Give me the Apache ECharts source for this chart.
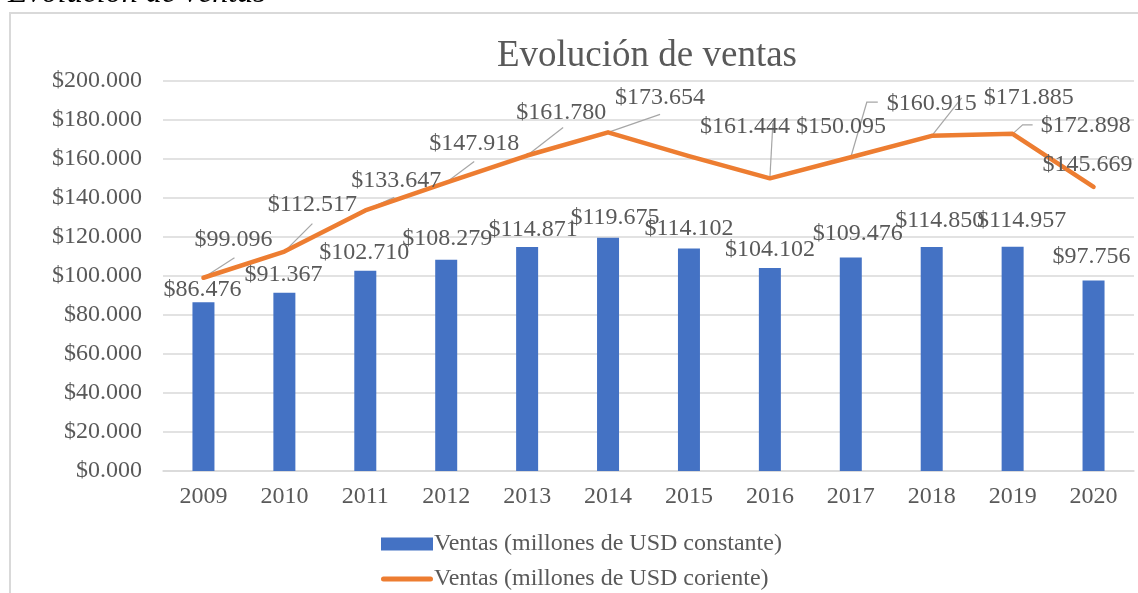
<!DOCTYPE html>
<html>
<head>
<meta charset="utf-8">
<script src="https://cdn.jsdelivr.net/npm/echarts@6/dist/echarts.min.js"></script>
<style>
  html, body { margin: 0; padding: 0; background: #ffffff; }
  #chart { width: 1138px; height: 593px; }
</style>
</head>
<body>
<div id="chart"></div>
<script>
// ---- data ----
const years = ['2009', '2010', '2011', '2012', '2013', '2014', '2015', '2016', '2017', '2018', '2019', '2020'];
const ventasConstante = [86.476, 91.367, 102.710, 108.279, 114.871, 119.675, 114.102, 104.102, 109.476, 114.850, 114.957, 97.756];
const ventasCorriente = [99.096, 112.517, 133.647, 147.918, 161.780, 173.654, 161.444, 150.095, 160.915, 171.885, 172.898, 145.669];
const seriesNames = ['Ventas (millones de USD constante)', 'Ventas (millones de USD coriente)'];
const yAxisMin = 0;
const yAxisMax = 200;
const yAxisStep = 20;

// ---- label placement (px offsets of the label centre from its anchor) ----
const barLabelShift = [[-1, -13], [-1, -18], [-1, -18], [1, -21], [6, -17.5], [7, -20],
                       [0, -19.5], [0, -18], [7, -24], [8, -26.5], [9, -26], [-2, -24]];
const lineLabelShift = [[30, -38], [28, -47], [31, -30], [28, -39], [34, -43], [52, -35],
                        [56, -29], [71, -52], [81, -54], [97, -38], [73, -8], [-6, -22]];
// leader-line bends, relative to the point; null = no leader
const lineLeader = [[[31, -20]], [[28, -28]], [[29, -13]], [[28, -21]], [[36, -28]], [[52, -18]],
                    null, [[3, -55]], [[16, -55], [27, -55]], [[30, -38]], [[10, -9], [20, -9]], null];

const FONT = '"Liberation Serif", "Times New Roman", serif';
const TEXT = '#595959';
const fmt = v => '$' + v.toFixed(3);

const legendBase = {
  left: 376,
  itemWidth: 52,
  itemHeight: 13,
  textStyle: { color: TEXT, fontSize: 24, fontFamily: FONT, padding: [0, 0, 0, -4] }
};

const chart = echarts.init(document.getElementById('chart'), null, { renderer: 'canvas' });

chart.setOption({
  backgroundColor: '#ffffff',
  animation: false,
  textStyle: { fontFamily: FONT },
  graphic: [
    { type: 'rect', shape: { x: 10, y: 13, width: 1150, height: 600 },
      style: { fill: null, stroke: '#d9d9d9', lineWidth: 2 }, silent: true },
    { type: 'text', x: 8, y: -6,
      style: { text: 'Evolución de ventas', font: 'italic 32px ' + FONT, fill: '#000000',
               align: 'left', verticalAlign: 'middle' } },
    { type: 'text', x: 647, y: 56,
      style: { text: 'Evolución de ventas', font: '37px ' + FONT, fill: TEXT,
               align: 'center', verticalAlign: 'middle' } }
  ],
  legend: [
    Object.assign({}, legendBase, {
      top: 527,
      data: [{ name: seriesNames[0], icon: 'rect' }]
    }),
    Object.assign({}, legendBase, {
      top: 562,
      data: [{ name: seriesNames[1],
               icon: 'path://M0,0L0.01,0M2.5,4H49.5A2.5,2.5,0,0,1,49.5,9H2.5A2.5,2.5,0,0,1,2.5,4ZM0,13L0.01,13',
               itemStyle: { color: '#ed7d31' } }]
    })
  ],
  grid: { left: 163, right: 4, top: 81, bottom: 122 },
  xAxis: {
    type: 'category',
    data: years,
    axisLine: { lineStyle: { color: '#d9d9d9', width: 1.5 } },
    axisTick: { show: false },
    axisLabel: { color: TEXT, fontSize: 24, fontFamily: FONT, margin: 14 }
  },
  yAxis: {
    type: 'value',
    min: yAxisMin,
    max: yAxisMax,
    interval: yAxisStep,
    axisLine: { show: false },
    axisTick: { show: false },
    splitLine: { lineStyle: { color: '#d9d9d9', width: 1.5 } },
    axisLabel: { color: TEXT, fontSize: 24, fontFamily: FONT, margin: 21, formatter: fmt }
  },
  series: [
    {
      name: seriesNames[0],
      type: 'bar',
      data: ventasConstante,
      barWidth: 22,
      itemStyle: { color: '#4472c4' },
      label: { show: true, position: 'top', color: TEXT, fontSize: 24, fontFamily: FONT,
               formatter: p => fmt(p.value) },
      labelLayout: function (p) {
        const s = barLabelShift[p.dataIndex];
        return { x: p.rect.x + p.rect.width / 2 + s[0], y: p.rect.y + s[1],
                 align: 'center', verticalAlign: 'middle' };
      },
      z: 2
    },
    {
      // grey leader lines from each point towards its value label
      name: 'leaders',
      type: 'custom',
      data: ventasCorriente.map((v, i) => [i, v]),
      encode: { x: 0, y: 1 },
      silent: true,
      z: 3,
      renderItem: function (params, api) {
        const bends = lineLeader[params.dataIndex];
        if (!bends) return null;
        const p = api.coord([api.value(0), api.value(1)]);
        const pts = [p].concat(bends.map(b => [p[0] + b[0], p[1] + b[1]]));
        return { type: 'polyline', shape: { points: pts },
                 style: { stroke: '#a6a6a6', lineWidth: 1.2, fill: null } };
      }
    },
    {
      name: seriesNames[1],
      type: 'line',
      data: ventasCorriente,
      symbol: 'circle',
      symbolSize: 1,
      showSymbol: true,
      itemStyle: { color: '#ed7d31' },
      lineStyle: { color: '#ed7d31', width: 4.5, cap: 'round', join: 'round' },
      label: { show: true, position: 'top', color: TEXT, fontSize: 24, fontFamily: FONT,
               formatter: p => fmt(p.value) },
      labelLayout: function (p) {
        const s = lineLabelShift[p.dataIndex];
        const cx = p.rect.x + p.rect.width / 2;
        const cy = p.rect.y + p.rect.height / 2;
        return { x: cx + s[0], y: cy + s[1], align: 'center', verticalAlign: 'middle' };
      },
      z: 4
    }
  ]
});
</script>
</body>
</html>
